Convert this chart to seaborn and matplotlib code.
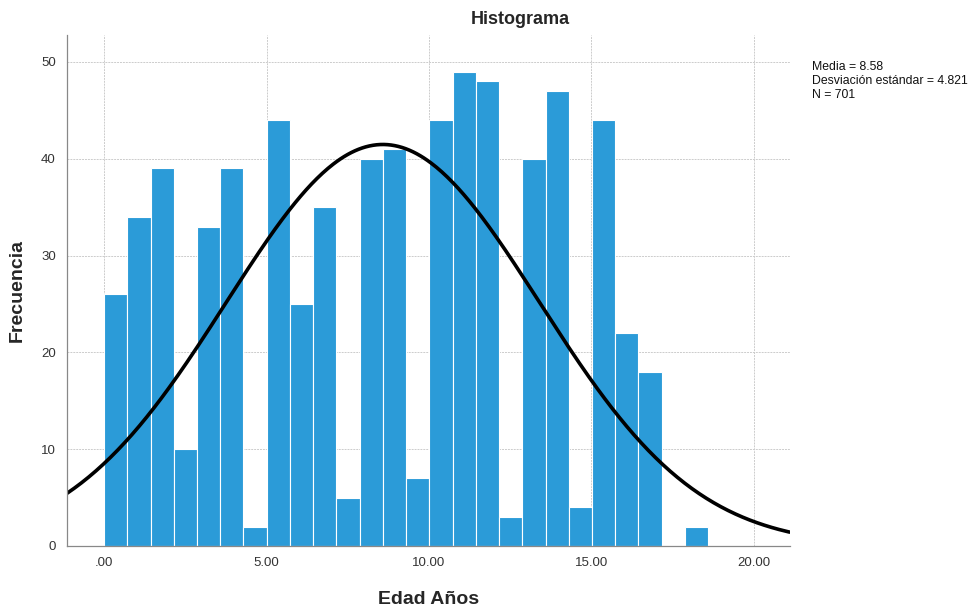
import numpy as np
import pandas as pd
import matplotlib
matplotlib.use("Agg")
import matplotlib.pyplot as plt
import seaborn as sns

# ── Data ─────────────────────────────────────────────────────────────────────
counts = [26, 34, 39, 10, 33, 39, 2, 44, 25, 35, 5, 40, 41,
          7, 44, 49, 48, 3, 40, 47, 4, 44, 22, 18, 0, 2]
bin_start = 0.0
bin_width = 0.715
media = 8.58
desv = 4.821
n_total = 701
x_ticks = [0, 5, 10, 15, 20]
y_ticks = [0, 10, 20, 30, 40, 50]

edges = bin_start + bin_width * np.arange(len(counts) + 1)
centers = (edges[:-1] + edges[1:]) / 2
df = pd.DataFrame({"edad": centers, "n": counts})

sns.set_theme(style="white")
plt.rcParams["font.family"] = ["Liberation Sans", "DejaVu Sans"]

fig = plt.figure(figsize=(9.74, 6.12), dpi=100)
ax = fig.add_axes([0.0688, 0.108, 0.742, 0.835])

sns.histplot(data=df, x="edad", weights="n", bins=list(edges), ax=ax,
             color="#2b9bd8", alpha=1.0, edgecolor="white", linewidth=0.8)

# normal curve scaled to counts
xlim = (-1.14, 21.1)
xs = np.linspace(xlim[0], xlim[1], 400)
ys = n_total * bin_width / (desv * np.sqrt(2 * np.pi)) * np.exp(-0.5 * ((xs - media) / desv) ** 2)
sns.lineplot(x=xs, y=ys, ax=ax, color="black", lw=2.6)

ax.set_xlim(*xlim)
ax.set_ylim(0, 52.8)
ax.set_xticks(x_ticks)
ax.set_xticklabels([".00" if v == 0 else f"{v:.2f}" for v in x_ticks])
ax.set_yticks(y_ticks)
ax.set_yticklabels([str(v) for v in y_ticks])
ax.tick_params(length=0, labelsize=9.5, colors="#333333", pad=8)
ax.grid(True, color="#cccccc", lw=0.7, ls=(0, (2, 1)))
ax.set_axisbelow(True)
for s in ["top", "right"]:
    ax.spines[s].set_visible(False)
for s in ["left", "bottom"]:
    ax.spines[s].set_color("#888888")
    ax.spines[s].set_linewidth(0.9)

ax.set_xlabel("Edad Años", fontsize=14, fontweight="bold", labelpad=16)
ax.set_ylabel("Frecuencia", fontsize=14, fontweight="bold")
ax.yaxis.set_label_coords(-0.057, 0.5)
fig.text(0.534, 0.968, "Histograma", ha="center", va="center",
         fontsize=13, fontweight="bold")
fig.text(0.834, 0.9, f"Media = {media}\nDesviación estándar = {desv}\nN = {n_total}",
         ha="left", va="top", fontsize=8.8, linespacing=1.2, color="#111111")

plt.savefig("out.png", dpi=100)
